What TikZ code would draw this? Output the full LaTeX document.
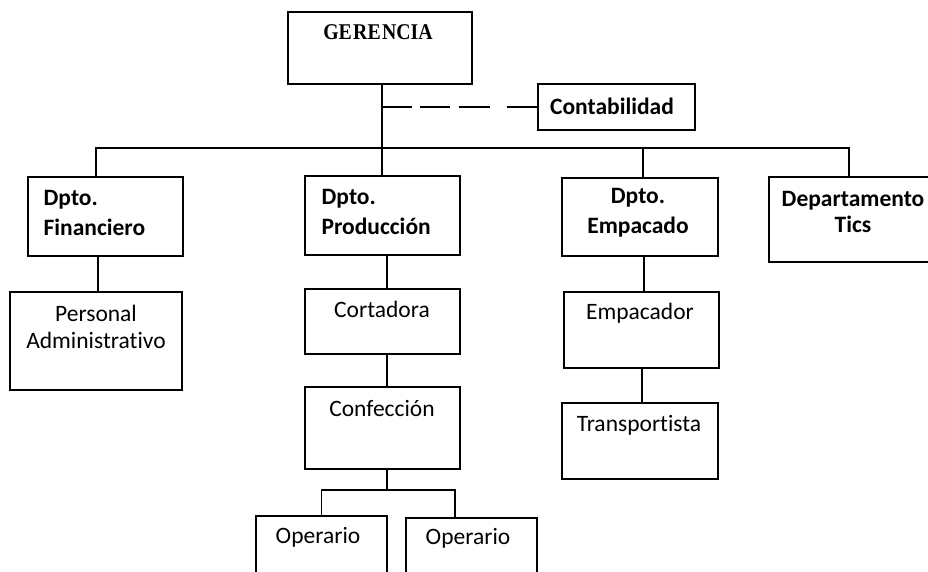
\documentclass[tikz,border=0pt]{standalone}
\usepackage{fontspec}
\setmainfont{Carlito}[Ligatures={NoCommon}]
\newfontfamily\gerfont{Liberation Serif}
\usepackage{tikz}
\usetikzlibrary{calc}

\begin{document}
\begin{tikzpicture}[x=1pt, y=-1pt, line width=1.3pt,
		box/.style={draw, rectangle, inner sep=0pt},
		bold/.style={font=\fontsize{23.5}{30}\selectfont\bfseries, inner sep=0pt},
		plain/.style={font=\fontsize{23.5}{27}\selectfont, inner sep=0pt}]
		%%%%% START %%%%%
		
		\clip (0, 0) rectangle (928, 571);
		
		\node[box, minimum width=184, minimum height=72] (ger) at (380, 48) {};
		\node[inner sep=0pt, font=\gerfont\fontsize{22.5}{26}\selectfont\bfseries] (gertext) at (378, 32) {\scalebox{0.88}[1]{GE\kern1.5pt RE\kern1.5pt NCIA}};
		
		\node[box, minimum width=157, minimum height=46] (cont) at (616.5, 107) {};
		\node[bold] (conttext) at (612, 106) {Contabilidad};
		
		\node[box, minimum width=155, minimum height=79] (fin) at (105.5, 216.5) {};
		\node[bold, align=left, anchor=west] (fintext) at (43, 213) {Dpto.\\Financiero};
		\node[box, minimum width=155, minimum height=79] (prod) at (382.5, 215.5) {};
		\node[bold, align=left, anchor=west] (prodtext) at (321, 212) {Dpto.\\Producción};
		\node[box, minimum width=156, minimum height=78] (emp) at (640, 217) {};
		\node[bold, align=center] (emptext) at (638, 213) {Dpto.\\Empacado};
		\node[box, minimum width=171, minimum height=85] (tics) at (854.5, 219.5) {};
		\node[bold, align=center, font=\fontsize{23.5}{26}\selectfont\bfseries] (ticstext) at (853, 212) {Departamento\\Tics};
		
		\node[box, minimum width=172, minimum height=98] (pers) at (96, 341) {};
		\node[plain, align=center] (perstext) at (96, 326.5) {Personal\\Administrativo};
		
		\node[box, minimum width=155, minimum height=65] (cort) at (382.5, 321.5) {};
		\node[plain] (corttext) at (382, 309) {Cortadora};
		\node[box, minimum width=155, minimum height=82] (conf) at (382.5, 428) {};
		\node[plain] (conftext) at (382, 408) {Confección};
		\node[box, minimum width=131, minimum height=84] (op1) at (321.5, 558) {};
		\node[plain] (op1text) at (318, 537) {Operario};
		\node[box, minimum width=131, minimum height=82] (op2) at (471.5, 559) {};
		\node[plain] (op2text) at (468, 538) {Operario};
		
		\node[box, minimum width=155, minimum height=76] (empc) at (641.5, 330) {};
		\node[plain] (empctext) at (640, 313) {Empacador};
		\node[box, minimum width=156, minimum height=76] (trans) at (640, 441) {};
		\node[plain] (transtext) at (639, 425) {Transportista};
		
		% lines
		\coordinate (bus) at (382, 148);
		\coordinate (split) at (387, 490);
		\draw ([xshift=2pt]ger.south) -- ([xshift=2pt]ger.south |- prod.north);
		\draw[dash pattern=on 30pt off 8pt on 30pt off 9pt on 31pt off 17pt on 31pt] (cont.west -| bus) -- (cont.west);
		\draw ([xshift=-9.5pt]fin.north) |- (bus) -| ([xshift=-5.5pt]tics.north);
		\draw ([xshift=3pt]emp.north) -- ([xshift=3pt]emp.north |- bus);
		
		\draw ([xshift=-7.5pt]fin.south) -- ([xshift=-7.5pt]fin.south |- pers.north);
		\draw ([xshift=4.5pt]prod.south) -- ([xshift=4.5pt]prod.south |- cort.north);
		\draw ([xshift=4.5pt]cort.south) -- ([xshift=4.5pt]cort.south |- conf.north);
		\draw ([xshift=4.5pt]conf.south) -- (split);
		\draw (op1.north) |- (split) -| ([xshift=-16.5pt]op2.north);
		\draw ([xshift=4pt]emp.south) -- ([xshift=4pt]emp.south |- empc.north);
		\draw ([xshift=0.5pt]empc.south) -- ([xshift=0.5pt]empc.south |- trans.north);
		
		%%%%% END %%%%%
	\end{tikzpicture}
\end{document}
